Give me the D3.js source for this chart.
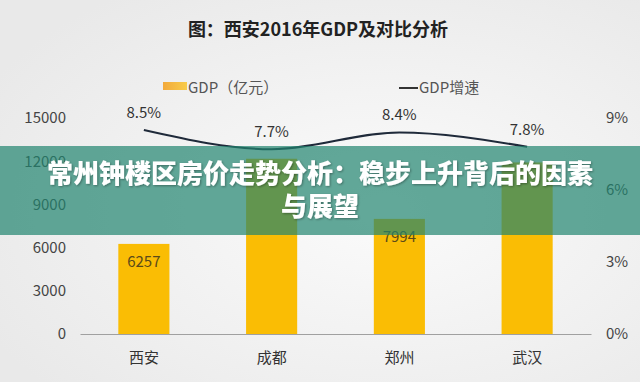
<!DOCTYPE html>
<html><head><meta charset="utf-8">
<script src="https://cdn.jsdelivr.net/npm/d3@7/dist/d3.min.js"></script>
<style>
html,body{margin:0;padding:0;background:#f1f1f1;}
svg{display:block;}
</style></head>
<body><svg id="c" width="640" height="382"></svg>
<script>
const title = "图：西安2016年GDP及对比分析";
const categories = ["西安", "成都", "郑州", "武汉"];
const gdpValues = [6257, 12170, 7994, 11913];
const gdpLabelsShown = [true, false, true, false]; // labels of 成都/武汉 are hidden under the banner in the reference
const growthValues = [8.5, 7.7, 8.4, 7.8];
const leftTicks = [0, 3000, 6000, 9000, 12000, 15000];
const rightTicks = [0, 3, 6, 9];
const legendLabels = ["GDP（亿元）", "GDP增速"];
const bannerLines = ["常州钟楼区房价走势分析：稳步上升背后的因素", "与展望"];

const svg = d3.select("#c");
const W = 640, H = 382;
const font = "'Noto Sans CJK SC','Noto Sans',sans-serif";

const defs = svg.append("defs");
const rg = defs.append("radialGradient").attr("id","bg").attr("cx","60%").attr("cy","55%").attr("r","70%");
rg.append("stop").attr("offset","0%").attr("stop-color","#fbfbfb");
rg.append("stop").attr("offset","100%").attr("stop-color","#e9e9e9");
svg.append("rect").attr("width",W).attr("height",H).attr("fill","url(#bg)");

const sw = defs.append("linearGradient").attr("id","sw");
sw.append("stop").attr("offset","0%").attr("stop-color","#f2a93b");
sw.append("stop").attr("offset","100%").attr("stop-color","#f8cc4a");

const x = d3.scaleBand().domain(categories).range([80, 591]).paddingInner(0.6).paddingOuter(0.3);
const yL = d3.scaleLinear().domain([0, 15000]).range([334, 118]);
const yR = d3.scaleLinear().domain([0, 9]).range([334, 118]);

svg.append("text").attr("x", 318).attr("y", 36).attr("text-anchor","middle")
  .attr("font-family", font).attr("font-weight", 700).attr("font-size", 18).attr("fill","#222").text(title);

svg.append("rect").attr("x",163).attr("y",82).attr("width",24).attr("height",8).attr("fill","url(#sw)");
svg.append("text").attr("x",188).attr("y",93).attr("font-family",font).attr("font-size",15).attr("fill","#555").text(legendLabels[0]);
svg.append("line").attr("x1",399).attr("x2",418).attr("y1",88).attr("y2",88).attr("stroke","#333").attr("stroke-width",2);
svg.append("text").attr("x",419).attr("y",93).attr("font-family",font).attr("font-size",15).attr("fill","#555").text(legendLabels[1]);

const axL = svg.append("g").attr("transform","translate(66,0)")
  .call(d3.axisLeft(yL).tickValues(leftTicks).tickSize(0).tickPadding(0).tickFormat(d3.format("d")));
axL.select(".domain").remove();
axL.selectAll("text").attr("font-family",font).attr("font-size",15).attr("fill","#444");

const axR = svg.append("g").attr("transform","translate(606,0)")
  .call(d3.axisRight(yR).tickValues(rightTicks).tickSize(0).tickPadding(0).tickFormat(d => d + "%"));
axR.select(".domain").remove();
axR.selectAll("text").attr("font-family",font).attr("font-size",15).attr("fill","#444");

svg.selectAll("rect.bar").data(gdpValues).join("rect").attr("class","bar")
  .attr("x",(d,i)=>x(categories[i])).attr("width",x.bandwidth())
  .attr("y",d=>yL(d)).attr("height",d=>yL(0)-yL(d)).attr("fill","#fabd04");

svg.selectAll("text.bl").data(gdpValues.map((v,i)=>({v,i})).filter(d=>gdpLabelsShown[d.i])).join("text").attr("class","bl")
  .attr("x",d=>x(categories[d.i])+x.bandwidth()/2).attr("y",d=>yL(d.v)+23)
  .attr("text-anchor","middle").attr("font-family",font).attr("font-size",15).attr("fill","#5a4a1a").text(d=>d.v);

const axB = svg.append("g").attr("transform","translate(0,334)")
  .call(d3.axisBottom(x).tickSize(0).tickPadding(18));
axB.select(".domain").attr("stroke","#a0a0a0").attr("stroke-width",1.2);
axB.selectAll("text").attr("font-family",font).attr("font-size",15).attr("fill","#333");

const line = d3.line().x((d,i)=>x(categories[i])+x.bandwidth()/2).y(d=>yR(d)).curve(d3.curveMonotoneX);
svg.append("path").datum(growthValues).attr("d",line).attr("fill","none").attr("stroke","#1f2a3a").attr("stroke-width",2);
svg.selectAll("text.gl").data(growthValues).join("text").attr("class","gl")
  .attr("x",(d,i)=>x(categories[i])+x.bandwidth()/2).attr("y",d=>yR(d)-12)
  .attr("text-anchor","middle").attr("font-family",font).attr("font-size",15).attr("fill","#333").text(d=>d.toFixed(1)+"%");

svg.append("rect").attr("x",0).attr("y",146).attr("width",W).attr("height",89).attr("fill","rgba(33,133,111,0.7)");
const f = defs.append("filter").attr("id","sh").attr("x","-5%").attr("y","-20%").attr("width","110%").attr("height","140%");
f.append("feDropShadow").attr("dx",1).attr("dy",1).attr("stdDeviation",1).attr("flood-color","#000").attr("flood-opacity",0.35);
svg.selectAll("text.bn").data(bannerLines).join("text").attr("class","bn")
  .attr("x",320).attr("y",(d,i)=>183+i*33).attr("text-anchor","middle")
  .attr("font-family",font).attr("font-weight",900).attr("font-size",26).attr("fill","#fff")
  .attr("filter","url(#sh)").text(d=>d);
</script></body></html>
